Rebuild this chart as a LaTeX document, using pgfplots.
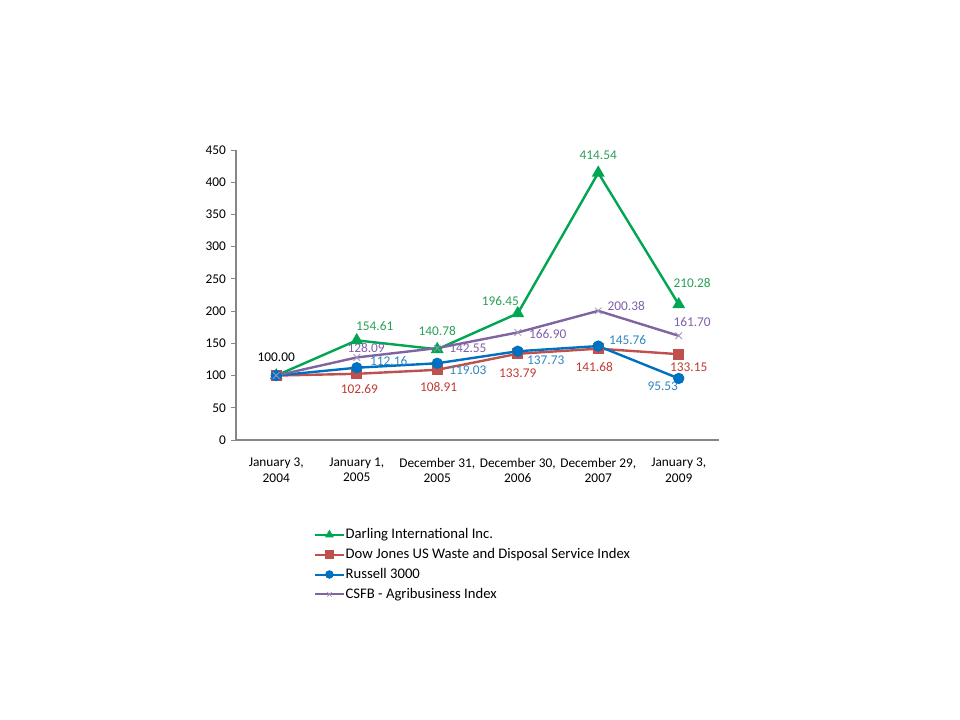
\documentclass[border=0pt]{standalone}
\usepackage{pgfplots}
\pgfplotsset{compat=1.18}
\usepackage{fontspec}
\setmainfont{Carlito}
\definecolor{cgreen}{RGB}{0,166,81}
\definecolor{cred}{RGB}{192,80,77}
\definecolor{cblue}{RGB}{0,112,192}
\definecolor{cpurple}{RGB}{128,100,162}
\definecolor{tgreen}{RGB}{40,160,85}
\definecolor{tred}{RGB}{192,57,50}
\definecolor{tblue}{RGB}{46,134,193}
\definecolor{tpurple}{RGB}{127,96,168}
\definecolor{axgray}{RGB}{134,134,134}
\begin{document}
\begin{tikzpicture}
\path[use as bounding box] (0,0) rectangle (720pt,540pt);
\begin{axis}[
  at={(177pt,210pt)}, anchor=south west,
  scale only axis, width=362.25pt, height=217.5pt,
  xmin=-0.5, xmax=5.5, ymin=0, ymax=450,
  axis x line*=bottom, axis y line*=left,
  axis line style={axgray, line width=0.8pt, -},
  ytick={0,50,...,450},
  xtick={0,...,5},
  xticklabels={{January 3,\\2004},{January 1,\\2005},{December 31,\\2005},{December 30,\\2006},{December 29,\\2007},{January 3,\\2009}},
  xticklabel style={align=center, font=\fontsize{10}{11.5}\selectfont, yshift=-6pt},
  yticklabel style={font=\fontsize{10}{11}\selectfont},
  /pgf/number format/assume math mode=true,
  major x tick style={draw=none},
  extra x ticks={-0.5,0.5,1.5,2.5,3.5,4.5,5.5},
  extra x tick labels={},
  extra x tick style={major tick length=4pt, tick style={axgray, line width=0.6pt}, tick align=outside},
  ytick style={axgray, line width=0.6pt},
  tick align=outside, major tick length=4pt,
  legend style={at={(0.161,-0.299)}, anchor=north west, draw=none, fill=none,
    font=\fontsize{11}{13}\selectfont, row sep=3.2pt, inner sep=0pt,
    nodes={inner sep=0.6pt, text height=8pt, text depth=2.5pt}},
  legend cell align=left,
  legend image code/.code={\draw[mark repeat=2,mark phase=2, line width=1.5pt, mark size=2.4pt] plot coordinates {(0cm,0cm) (0.38cm,0cm) (0.76cm,0cm)};},
  clip=false,
]
\addplot[cgreen, line width=1.8pt, mark=triangle*, mark size=3.8pt, mark options={solid}] coordinates {(0,100) (1,154.61) (2,140.78) (3,196.45) (4,414.54) (5,210.28)};
\addlegendentry{Darling International Inc.}
\addplot[cred, line width=1.8pt, mark=square*, mark size=3.2pt] coordinates {(0,100) (1,102.69) (2,108.91) (3,133.79) (4,141.68) (5,133.15)};
\addlegendentry{Dow Jones US Waste and Disposal Service Index}
\addplot[cblue, line width=1.8pt, mark=*, mark size=3.3pt] coordinates {(0,100) (1,112.16) (2,119.03) (3,137.73) (4,145.76) (5,95.53)};
\addlegendentry{Russell 3000}
\addplot[cpurple, line width=1.8pt, mark=x, mark size=3.5pt, mark options={line width=0.6pt, color=cpurple!70}] coordinates {(0,100) (1,128.09) (2,142.55) (3,166.90) (4,200.38) (5,161.70)};
\addlegendentry{CSFB - Agribusiness Index}
% data labels
\begin{scope}[every node/.style={font=\fontsize{10}{11}\selectfont, inner sep=0pt}]
\node[black] at (axis cs:0,100) [yshift=13.5pt] {100.00};
\node[tgreen] at (axis cs:1,154.61) [xshift=13.5pt, yshift=11pt] {154.61};
\node[tgreen] at (axis cs:2,140.78) [yshift=13.5pt] {140.78};
\node[tgreen] at (axis cs:3,196.45) [xshift=-13pt, yshift=9pt] {196.45};
\node[tgreen] at (axis cs:4,414.54) [yshift=13.5pt] {414.54};
\node[tgreen] at (axis cs:5,210.28) [xshift=10pt, yshift=16pt] {210.28};
\node[tred] at (axis cs:1,102.69) [xshift=2pt, yshift=-11.5pt] {102.69};
\node[tred] at (axis cs:2,108.91) [xshift=1pt, yshift=-13pt] {108.91};
\node[tred] at (axis cs:3,133.79) [yshift=-14.6pt] {133.79};
\node[tred] at (axis cs:4,141.68) [xshift=-3pt, yshift=-14pt] {141.68};
\node[tred] at (axis cs:5,133.15) [xshift=7.5pt, yshift=-10pt] {133.15};
\node[tblue] at (axis cs:1,112.16) [xshift=24pt, yshift=5pt] {112.16};
\node[tblue] at (axis cs:2,119.03) [xshift=23pt, yshift=-5pt] {119.03};
\node[tblue] at (axis cs:3,137.73) [xshift=21pt, yshift=-7pt] {137.73};
\node[tblue] at (axis cs:4,145.76) [xshift=22pt, yshift=4.5pt] {145.76};
\node[tblue] at (axis cs:5,95.53) [xshift=-12pt, yshift=-5.5pt] {95.53};
\node[tpurple] at (axis cs:1,128.09) [xshift=7pt, yshift=7pt] {128.09};
\node[tpurple] at (axis cs:2,142.55) [xshift=23pt, yshift=0pt] {142.55};
\node[tpurple] at (axis cs:3,166.90) [xshift=22.5pt, yshift=-1.5pt] {166.90};
\node[tpurple] at (axis cs:4,200.38) [xshift=21pt, yshift=4pt] {200.38};
\node[tpurple] at (axis cs:5,161.70) [xshift=10pt, yshift=10pt] {161.70};
\end{scope}
\end{axis}
\end{tikzpicture}
\end{document}
